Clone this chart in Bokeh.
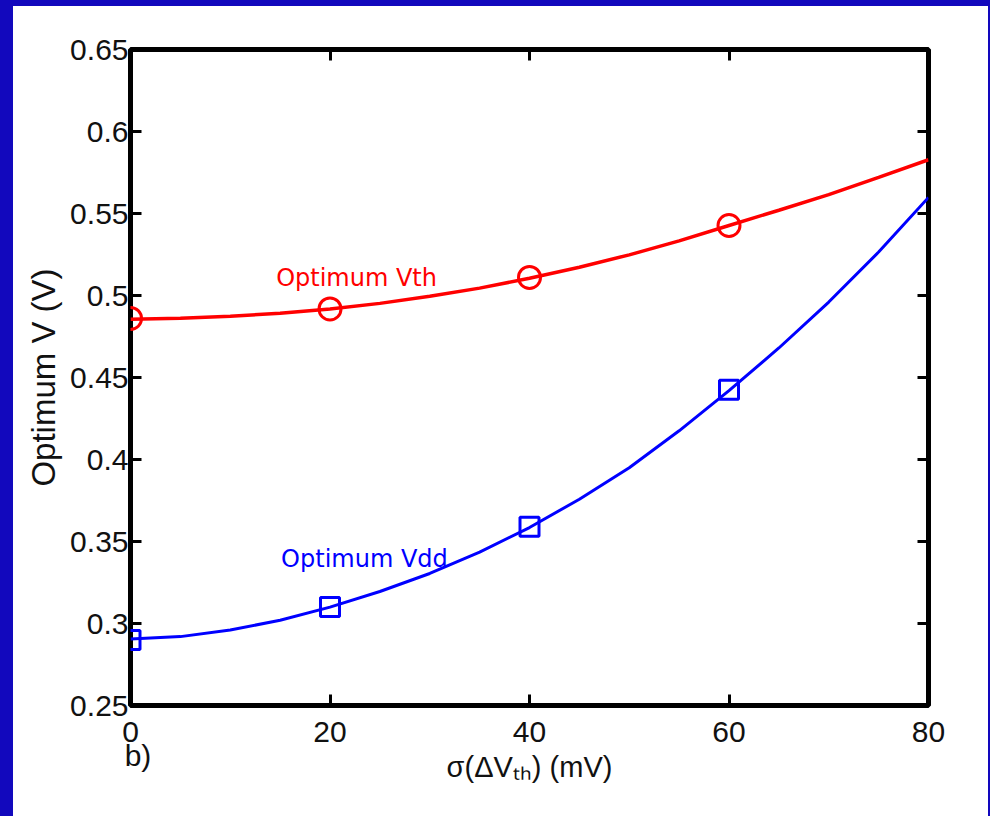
from bokeh.plotting import figure
from bokeh.models import Range1d, FixedTicker, LinearAxis, Label
from bokeh.embed import file_html
from bokeh.resources import INLINE

# ---- data ----
x_pts = [0, 20, 40, 60]
vth_pts = [0.486, 0.4918, 0.511, 0.5427]
vdd_pts = [0.2900, 0.3100, 0.3590, 0.4425]

# fitted curves
x_fit = [0, 5, 10, 15, 20, 25, 30, 35, 40, 45, 50, 55, 60, 65, 70, 75, 80]
vth_fit = [0.4855, 0.4862, 0.4873, 0.4892, 0.4918, 0.4952, 0.4995, 0.5045, 0.5105,
           0.5172, 0.5248, 0.5333, 0.5427, 0.5520, 0.5615, 0.5720, 0.5828]
vdd_fit = [0.2905, 0.2920, 0.2960, 0.3020, 0.3100, 0.3195, 0.3305, 0.3435, 0.3585,
           0.3758, 0.3950, 0.4175, 0.4420, 0.4680, 0.4960, 0.5265, 0.5598]

x_ticks = [0, 20, 40, 60, 80]
x_tick_labels = ["0\n\u2002b)", "20", "40", "60", "80"]
y_ticks = [0.25, 0.3, 0.35, 0.4, 0.45, 0.5, 0.55, 0.6, 0.65]
y_tick_labels = ["0.25", "0.3", "0.35", "0.4", "0.45", "0.5", "0.55", "0.6", "0.65"]
x_title = "σ(ΔVₜₕ) (mV)"
y_title = "Optimum V (V)"

RED = "#ff0000"
BLUE = "#0000ff"
BORDER_BLUE = "#1208bd"
TICK_FONT = "Liberation Sans"
INK = "#111111"

p = figure(width=990, height=816, x_range=Range1d(0, 80), y_range=Range1d(0.25, 0.65),
           output_backend="svg", toolbar_location=None,
           min_border_left=130, min_border_right=62, min_border_top=49, min_border_bottom=111)
p.border_fill_color = None
p.background_fill_color = "white"
p.styles = {"box-shadow": f"inset 13px 6px 0 0 {BORDER_BLUE}, inset -2px 0 0 0 {BORDER_BLUE}",
            "background-color": "white"}
p.grid.visible = False
p.outline_line_color = "black"
p.outline_line_width = 5

# main axes
xa = p.xaxis[0]
ya = p.yaxis[0]
xa.ticker = FixedTicker(ticks=x_ticks)
ya.ticker = FixedTicker(ticks=y_ticks)
xa.major_label_overrides = {t: l for t, l in zip(x_ticks, x_tick_labels)}
ya.major_label_overrides = {t: l for t, l in zip(y_ticks, y_tick_labels)}
for ax in (xa, ya):
    ax.axis_line_color = None
    ax.major_tick_in = 11
    ax.major_tick_out = 0
    ax.major_tick_line_width = 3
    ax.major_tick_line_color = "black"
    ax.minor_tick_line_color = None
    ax.major_label_text_font = TICK_FONT
    ax.major_label_text_font_size = "30px"
    ax.major_label_text_color = INK
    ax.axis_label_text_font = TICK_FONT
    ax.axis_label_text_font_style = "normal"
    ax.axis_label_text_color = INK
xa.major_label_standoff = 9
xa.major_label_text_line_height = 0.75
xa.axis_label = x_title
xa.axis_label_text_font_size = "29px"
xa.axis_label_standoff = -24
ya.major_label_standoff = 2
ya.axis_label = y_title
ya.axis_label_text_font_size = "33px"
ya.axis_label_standoff = 5

# mirrored tick axes (top & right)
top = LinearAxis(ticker=FixedTicker(ticks=x_ticks))
right = LinearAxis(ticker=FixedTicker(ticks=y_ticks))
for ax in (top, right):
    ax.axis_line_color = None
    ax.major_tick_in = 11
    ax.major_tick_out = 0
    ax.major_tick_line_width = 3
    ax.minor_tick_line_color = None
    ax.major_label_text_font_size = "0px"
    ax.major_label_text_alpha = 0
p.add_layout(top, "above")
p.add_layout(right, "right")

# curves and markers
p.line(x_fit, vth_fit, line_color=RED, line_width=3.5)
p.line(x_fit, vdd_fit, line_color=BLUE, line_width=3)
p.scatter(x_pts, vth_pts, marker="circle", size=22, fill_color=None,
          line_color=RED, line_width=3)
p.scatter(x_pts, vdd_pts, marker="square", size=19, fill_color=None,
          line_color=BLUE, line_width=3)

# in-plot labels
p.add_layout(Label(x=14.6, y=0.5104, text="Optimum Vth", text_color=RED,
                   text_font="DejaVu Sans", text_font_size="24px", text_baseline="alphabetic"))
p.add_layout(Label(x=15.1, y=0.3396, text="Optimum Vdd", text_color=BLUE,
                   text_font="DejaVu Sans", text_font_size="24px", text_baseline="alphabetic"))

open("out.html", "w").write(file_html(p, INLINE))
